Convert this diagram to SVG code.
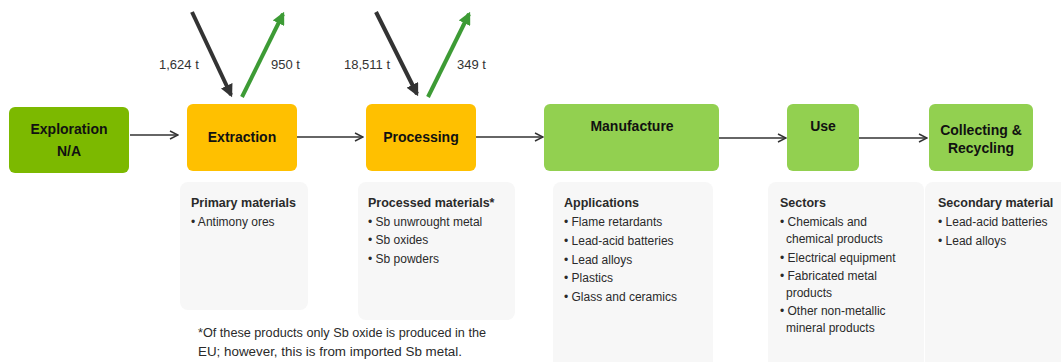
<svg xmlns="http://www.w3.org/2000/svg" width="1061" height="362" viewBox="0 0 1061 362">
<style>
.node{font-family:"Liberation Sans",Arial,sans-serif;font-size:14px;font-weight:bold;fill:#111;text-anchor:middle;}
.lab{font-family:"Liberation Sans",Arial,sans-serif;font-size:13px;fill:#333;}
.hd{font-family:"Liberation Sans",Arial,sans-serif;font-size:12.5px;font-weight:bold;fill:#2a2a2a;}
.it{font-family:"Liberation Sans",Arial,sans-serif;font-size:12px;fill:#2a2a2a;}
.conn{stroke:#333;stroke-width:1.5;fill:none;marker-end:url(#chev);}
.panel{fill:#f7f7f7;}
</style>
<defs>
<marker id="chev" viewBox="0 0 10 10" refX="9" refY="5" markerWidth="10" markerHeight="10" markerUnits="userSpaceOnUse" orient="auto">
<path d="M1,1 L9,5 L1,9" fill="none" stroke="#333" stroke-width="1.5"/>
</marker>
<marker id="hb" viewBox="0 0 10 10" refX="8" refY="5" markerWidth="3.2" markerHeight="3.2" orient="auto">
<path d="M0,0 L10,5 L0,10 Z" fill="#333"/>
</marker>
<marker id="hg" viewBox="0 0 10 10" refX="8" refY="5" markerWidth="3.2" markerHeight="3.2" orient="auto">
<path d="M0,0 L10,5 L0,10 Z" fill="#3d9b35"/>
</marker>
</defs>

<g id="panels">
<rect class="panel" x="180" y="182" width="128" height="128" rx="8"/>
<rect class="panel" x="358" y="182" width="157" height="138" rx="8"/>
<rect class="panel" x="553" y="182" width="160" height="190" rx="8"/>
<rect class="panel" x="768" y="182" width="156" height="190" rx="8"/>
<rect class="panel" x="925" y="182" width="146" height="190" rx="8"/>
</g>

<g id="connectors">
<line class="conn" x1="130" y1="135" x2="178" y2="135"/>
<line class="conn" x1="297" y1="137" x2="363" y2="137"/>
<line class="conn" x1="476" y1="137" x2="543" y2="137"/>
<line class="conn" x1="719" y1="138" x2="786" y2="138"/>
<line class="conn" x1="859" y1="138" x2="927" y2="138"/>
<line x1="192" y1="12" x2="231" y2="95" stroke="#333" stroke-width="4" marker-end="url(#hb)"/>
<line x1="242" y1="97" x2="283" y2="14" stroke="#3d9b35" stroke-width="4" marker-end="url(#hg)"/>
<line x1="376" y1="12" x2="417" y2="94" stroke="#333" stroke-width="4" marker-end="url(#hb)"/>
<line x1="428" y1="97" x2="469" y2="14" stroke="#3d9b35" stroke-width="4" marker-end="url(#hg)"/>
<text class="lab" x="159" y="69">1,624 t</text>
<text class="lab" x="271" y="69">950 t</text>
<text class="lab" x="344" y="69">18,511 t</text>
<text class="lab" x="457" y="69">349 t</text>
</g>

<g id="exploration">
<rect x="9" y="107" width="120" height="66" rx="6" fill="#7cb900"/>
<text class="node" x="69" y="134">Exploration</text>
<text class="node" x="69" y="156">N/A</text>
</g>
<g id="extraction">
<rect x="187" y="104" width="110" height="67" rx="6" fill="#ffc000"/>
<text class="node" x="242" y="142">Extraction</text>
</g>
<g id="processing">
<rect x="366" y="104" width="110" height="67" rx="6" fill="#ffc000"/>
<text class="node" x="421" y="142">Processing</text>
</g>
<g id="manufacture">
<rect x="544" y="104" width="175" height="67" rx="6" fill="#92d050"/>
<text class="node" x="632" y="131">Manufacture</text>
</g>
<g id="use">
<rect x="787" y="104" width="72" height="67" rx="6" fill="#92d050"/>
<text class="node" x="823" y="131">Use</text>
</g>
<g id="collecting">
<rect x="929" y="104" width="104" height="67" rx="6" fill="#92d050"/>
<text class="node" x="981" y="135">Collecting &amp;</text>
<text class="node" x="981" y="153">Recycling</text>
</g>

<g id="primary-list">
<text class="hd" x="191" y="207">Primary materials</text>
<text class="it" x="191" y="226">• Antimony ores</text>
</g>
<g id="processed-list">
<text class="hd" x="368" y="207">Processed materials*</text>
<text class="it" x="368" y="226">• Sb unwrought  metal</text>
<text class="it" x="368" y="244">• Sb oxides</text>
<text class="it" x="368" y="263">• Sb powders</text>
</g>
<g id="applications-list">
<text class="hd" x="564" y="207">Applications</text>
<text class="it" x="564" y="226">• Flame retardants</text>
<text class="it" x="564" y="245">• Lead-acid batteries</text>
<text class="it" x="564" y="264">• Lead alloys</text>
<text class="it" x="564" y="282">• Plastics</text>
<text class="it" x="564" y="301">• Glass and ceramics</text>
</g>
<g id="sectors-list">
<text class="hd" x="780" y="207">Sectors</text>
<text class="it" x="780" y="226">• Chemicals and</text>
<text class="it" x="786" y="243">chemical products</text>
<text class="it" x="780" y="262">• Electrical equipment</text>
<text class="it" x="780" y="280">• Fabricated metal</text>
<text class="it" x="786" y="297">products</text>
<text class="it" x="780" y="315">• Other non-metallic</text>
<text class="it" x="786" y="332">mineral  products</text>
</g>
<g id="secondary-list">
<text class="hd" x="938" y="207">Secondary material</text>
<text class="it" x="938" y="226">• Lead-acid batteries</text>
<text class="it" x="938" y="245">• Lead alloys</text>
</g>
<g id="footnote">
<text class="it" x="198" y="337" textLength="288" lengthAdjust="spacingAndGlyphs">*Of these products only Sb oxide is produced in the</text>
<text class="it" x="198" y="356" textLength="264" lengthAdjust="spacingAndGlyphs">EU; however, this is from imported Sb metal.</text>
</g>
</svg>
